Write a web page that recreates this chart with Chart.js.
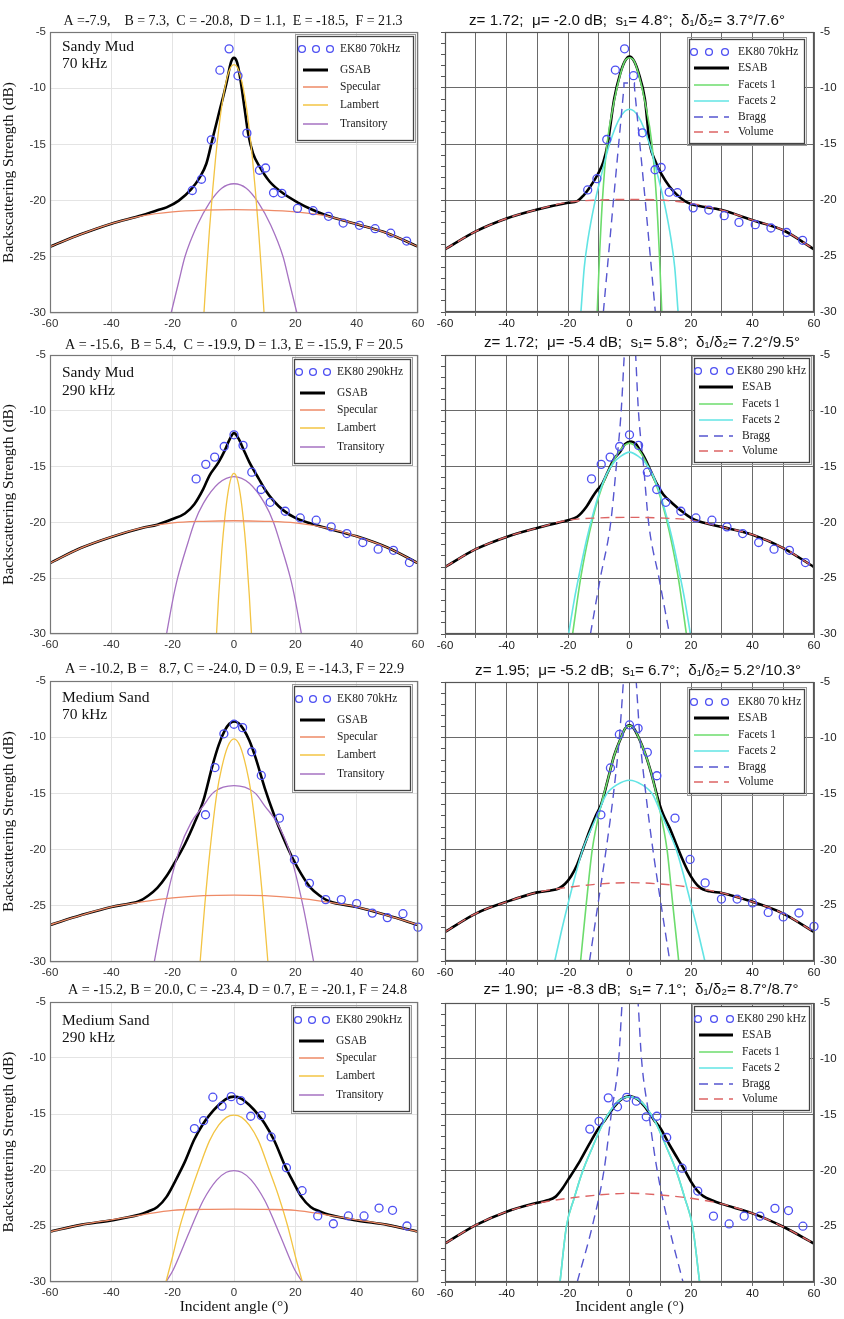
<!DOCTYPE html>
<html><head><meta charset="utf-8">
<script src="https://cdn.jsdelivr.net/npm/chart.js@4.4.1/dist/chart.umd.min.js"></script>
<style>
html,body{margin:0;padding:0;background:#fff;}
#wrap{position:relative;width:844px;height:1319px;overflow:hidden;background:#fff;}
#wrap canvas{position:absolute;}
</style></head><body><div id="wrap"></div>
<script>
// ================= DATA (angle in degrees, backscatter in dB) =================
// ---- Row 1: Sandy Mud 70 kHz ----
const SM70_EK80_ANG = [-13.6,-10.6,-7.4,-4.6,-1.6,1.3,4.2,8.3,10.3,12.9,15.6,20.7,25.8,30.8,35.6,40.9,46.0,51.1,56.3];
const SM70_EK80_DB  = [-19.1,-18.1,-14.6,-8.4,-6.5,-8.9,-14.0,-17.3,-17.1,-19.3,-19.35,-20.7,-20.9,-21.4,-22.0,-22.2,-22.5,-22.9,-23.6];
const SM70_GSAB_ANG = [-60,-50,-40,-30,-25,-22,-18,-14,-11.3,-9,-7,-4.7,-2.5,-1,0,1,1.9,3.5,4.6,6.2,8.4,11.6,16,21,25,30,40,50,60];
const SM70_GSAB_DB  = [-24.1,-23.0,-22.05,-21.3,-20.85,-20.6,-20.0,-19.0,-18.0,-16.7,-14.5,-12.0,-9.6,-7.7,-7.3,-7.7,-8.9,-11.9,-14.0,-15.8,-17.0,-18.3,-19.35,-20.2,-20.75,-21.3,-22.1,-22.9,-24.1];
const SM70_SPEC_ANG = [-60,-50,-40,-30,-20,-10,0,10,20,30,40,50,60];
const SM70_SPEC_DB  = [-24.1,-23.0,-22.05,-21.35,-21.0,-20.85,-20.8,-20.85,-21.0,-21.35,-22.1,-22.9,-24.1];
const SM70_LAMB_ANG = [-9.8,-9,-8,-7,-6,-5,-4,-3,-2,-1,0,1,2,3,4,5,6,7,8,9,9.8];
const SM70_LAMB_DB  = [-30,-26.5,-22.6,-19.2,-16.2,-13.7,-11.6,-10.0,-8.8,-8.1,-7.9,-8.1,-8.8,-10.0,-11.6,-13.7,-16.2,-19.2,-22.6,-26.5,-30];
const SM70_TRAN_ANG = [-20.5,-18,-16,-12,-8,-4,0,4,8,12,16,18,20.5];
const SM70_TRAN_DB  = [-30,-27.2,-25.0,-22.2,-20.2,-18.9,-18.5,-18.9,-20.2,-22.2,-25.0,-27.2,-30];
const SM70_ESAB_ANG = [-60,-50,-40,-30,-20,-17,-15,-13,-10.3,-8.5,-7.1,-5,-3,-1.5,0,1.5,3,5,6.6,8.5,10.4,13,15.3,18,20,30,40,50,60];
const SM70_ESAB_DB  = [-24.4,-22.8,-21.65,-20.85,-20.25,-20.1,-19.6,-18.9,-17.7,-16.6,-15.0,-11.0,-8.7,-7.6,-7.2,-7.6,-8.7,-11.0,-15.0,-16.6,-17.7,-18.8,-19.5,-20.1,-20.35,-20.9,-21.8,-22.7,-24.4];
const SM70_F1_ANG = [-10.5,-9.75,-8.8,-7.3,-5,-3,-1.5,0,1.5,3,5,7.3,8.8,9.75,10.5];
const SM70_F1_DB  = [-30,-25,-20,-15,-11.2,-8.8,-7.6,-7.3,-7.6,-8.8,-11.2,-15,-20,-25,-30];
const SM70_F2_ANG = [-15.8,-14.7,-13.5,-11.5,-9,-6.5,-3,0,3,6.5,9,11.5,13.5,14.7,15.8];
const SM70_F2_DB  = [-30,-26,-23.5,-20.5,-17.6,-15.0,-12.6,-11.9,-12.6,-15.0,-17.6,-20.5,-23.5,-26,-30];
const SM70_BRAGG_ANG = [-8.5,-5.2,-1.8,-1.8,1.6,1.6,5.1,8.4];
const SM70_BRAGG_DB  = [-30,-20,-9.9,-9.55,-9.55,-9.9,-20,-30];
const SM70_VOL_ANG = [-60,-50,-40,-30,-20,-10,0,10,20,30,40,50,60];
const SM70_VOL_DB  = [-24.4,-22.8,-21.65,-20.85,-20.2,-20.0,-19.95,-20.0,-20.3,-20.9,-21.8,-22.7,-24.4];

// ---- Row 2: Sandy Mud 290 kHz ----
const SM290_EK80_ANG = [-12.35,-9.2,-6.3,-3.2,0,2.95,5.8,8.85,11.8,16.7,21.6,26.8,31.7,36.8,42.0,47.0,52.0,57.2];
const SM290_EK80_DB  = [-16.1,-14.8,-14.15,-13.2,-12.15,-13.1,-15.5,-17.05,-18.2,-19.0,-19.6,-19.8,-20.4,-21.0,-21.8,-22.4,-22.5,-23.6];
const SM290_GSAB_ANG = [-60,-50,-40,-30,-25,-20,-16,-13,-10,-8,-5,-3,-1.5,0,1.5,3,5,8,10,13,16,20,25,30,40,50,60];
const SM290_GSAB_DB  = [-23.65,-22.3,-21.3,-20.5,-20.2,-19.7,-19.2,-18.4,-17.0,-15.8,-14.6,-13.55,-12.6,-12.0,-12.5,-13.4,-14.6,-16.05,-17.0,-18.1,-18.9,-19.6,-20.1,-20.5,-21.25,-22.25,-23.65];
const SM290_SPEC_ANG = [-60,-50,-40,-30,-20,-10,0,10,20,30,40,50,60];
const SM290_SPEC_DB  = [-23.65,-22.3,-21.3,-20.5,-20.05,-19.9,-19.85,-19.9,-20.05,-20.5,-21.25,-22.25,-23.65];
const SM290_LAMB_ANG = [-5.7,-5,-4,-3,-2,-1,0,1,2,3,4,5,5.7];
const SM290_LAMB_DB  = [-30,-26.6,-22.6,-19.6,-17.4,-16.05,-15.6,-16.05,-17.4,-19.6,-22.6,-26.6,-30];
const SM290_TRAN_ANG = [-22,-20,-18.4,-15,-12.9,-10,-5,0,5,10,12.9,15,18.4,20,22];
const SM290_TRAN_DB  = [-30,-27.0,-25,-21.8,-20,-18.3,-16.5,-15.9,-16.5,-18.3,-20,-21.8,-25,-27.0,-30];
const SM290_ESAB_ANG = [-60,-50,-40,-30,-22,-20,-17,-14,-12,-10.5,-9,-7,-5,-3,-1.5,0.5,2,3,5,7,9,11,14,17,20,23,30,40,50,60];
const SM290_ESAB_DB  = [-24.0,-22.4,-21.3,-20.5,-19.95,-19.8,-19.5,-18.6,-17.7,-17.1,-16.6,-15.45,-14.3,-13.65,-13.0,-12.75,-12.95,-13.35,-14.25,-15.45,-16.6,-17.5,-18.3,-19.0,-19.6,-19.95,-20.4,-21.1,-22.3,-24.0];
const SM290_F1_ANG = [-18.5,-16,-14,-12,-10,-7.5,-5,-3,0,3,5,7.5,10,12,14,16,18.5];
const SM290_F1_DB  = [-30,-25.2,-22.2,-19.7,-17.7,-15.8,-14.4,-13.5,-12.9,-13.5,-14.4,-15.8,-17.7,-19.7,-22.2,-25.2,-30];
const SM290_F2_ANG = [-19.8,-18,-16,-14,-12,-10,-7.5,-5,-3,0,3,5,7.5,10,12,14,16,18,19.8];
const SM290_F2_DB  = [-30,-27.0,-24.2,-21.6,-19.4,-17.5,-15.7,-14.6,-14.1,-13.7,-14.1,-14.6,-15.7,-17.5,-19.4,-21.6,-24.2,-27.0,-30];
const SM290_BRAGG_ANG = [-12.7,-9.5,-6.1,-4.3,-2.7,-1.7,0.2,2.0,2.9,4.6,6.2,9.6,13.0];
const SM290_BRAGG_DB  = [-30,-25,-20,-15,-10,-5,4,-5,-10,-15,-20,-25,-30];
const SM290_VOL_ANG = [-60,-50,-40,-30,-20,-10,0,10,20,30,40,50,60];
const SM290_VOL_DB  = [-24.0,-22.4,-21.3,-20.5,-19.8,-19.6,-19.55,-19.6,-19.8,-20.4,-21.1,-22.3,-24.0];

// ---- Row 3: Medium Sand 70 kHz ----
const MS70_EK80_ANG = [-9.3,-6.2,-3.3,0,2.8,5.8,8.9,14.8,19.7,24.6,29.9,35.0,40.0,45.1,50.0,55.1,60.0];
const MS70_EK80_DB  = [-16.9,-12.7,-9.7,-8.85,-9.15,-11.3,-13.4,-17.2,-20.9,-23.0,-24.45,-24.45,-24.8,-25.65,-26.05,-25.7,-26.9];
const MS70_GSAB_ANG = [-60,-50,-40,-34,-31,-28,-25,-22,-19,-16,-13,-10,-7,-5,-3,-1.5,0,1.5,3,5,7,10,13,16,19,22,25,28,31,40,50,60];
const MS70_GSAB_DB  = [-26.7,-25.85,-25.1,-24.8,-24.6,-24.1,-23.4,-22.35,-21.0,-19.5,-17.7,-15.65,-12.5,-10.7,-9.4,-8.8,-8.6,-8.75,-9.25,-10.3,-11.8,-14.5,-16.85,-18.9,-20.7,-22.2,-23.4,-24.1,-24.6,-25.1,-25.85,-26.7];
const MS70_SPEC_ANG = [-60,-50,-40,-30,-20,-10,0,10,20,30,40,50,60];
const MS70_SPEC_DB  = [-26.7,-25.85,-25.1,-24.65,-24.3,-24.1,-24.05,-24.1,-24.3,-24.65,-25.1,-25.85,-26.7];
const MS70_LAMB_ANG = [-11.05,-9.55,-7.8,-5.6,-4,-2,0,2,4,5.6,7.8,9.55,11.05];
const MS70_LAMB_DB  = [-30,-25,-20,-15,-12.7,-10.8,-10.15,-10.8,-12.7,-15,-20,-25,-30];
const MS70_TRAN_ANG = [-26,-22.5,-17.8,-14,-10,-7,-3.5,0,3.5,7,10,14,17.9,22.5,26];
const MS70_TRAN_DB  = [-30,-25,-20,-17.6,-16.1,-15.0,-14.45,-14.3,-14.45,-15.0,-16.1,-17.6,-20,-25,-30];
const MS70_ESAB_ANG = [-60,-50,-40,-30,-26,-23,-21,-19,-17,-15,-13,-11,-9.2,-7,-5,-3,-1.5,0,1.5,3,5,7,9.6,11,13,15,17,19,21,23,26,30,40,50,60];
const MS70_ESAB_DB  = [-27.4,-25.75,-24.7,-23.85,-23.7,-23.5,-23.1,-22.4,-21.35,-19.85,-18.35,-17.0,-15.95,-13.7,-11.6,-10.15,-9.2,-8.87,-9.2,-10.0,-11.35,-13.1,-15.8,-16.9,-18.05,-19.4,-20.75,-21.95,-22.85,-23.45,-23.75,-23.9,-24.7,-25.75,-27.4];
const MS70_F1_ANG = [-15.9,-14.1,-12.1,-9.2,-7,-5,-3,-1.5,0,1.5,3,5,7,9.4,12.2,14.1,16.0];
const MS70_F1_DB  = [-30,-25,-20,-16,-13.7,-11.6,-10.15,-9.2,-8.9,-9.2,-10.0,-11.35,-13.1,-15.9,-20,-25,-30];
const MS70_F2_ANG = [-24.3,-22.2,-20.1,-17.5,-15.2,-12.5,-10,-7.6,-4,0,4,7.6,10,12.5,15.2,17.5,20.1,22.3,24.5];
const MS70_F2_DB  = [-30,-27.4,-25,-22.2,-20,-18.2,-16.6,-15.1,-14.2,-13.8,-14.2,-15.1,-16.6,-18.2,-20,-22.2,-25,-27.4,-30];
const MS70_BRAGG_ANG = [-13,-10.3,-7.6,-5.2,-3.3,-2.0,0.1,2.2,3.4,5.3,7.6,10.3,13.1];
const MS70_BRAGG_DB  = [-30,-25,-20,-15,-10,-5,4,-5,-10,-15,-20,-25,-30];
const MS70_VOL_ANG = [-60,-50,-40,-30,-20,-10,0,10,20,30,40,50,60];
const MS70_VOL_DB  = [-27.4,-25.75,-24.7,-23.85,-23.4,-23.1,-22.98,-23.1,-23.4,-23.9,-24.7,-25.75,-27.4];

// ---- Row 4: Medium Sand 290 kHz ----
const MS290_EK80_ANG = [-12.9,-9.9,-6.9,-3.9,-0.9,2.2,5.45,8.9,12.1,17.1,22.2,27.3,32.4,37.3,42.4,47.3,51.7,56.4];
const MS290_EK80_DB  = [-16.3,-15.6,-13.5,-14.3,-13.45,-13.8,-15.2,-15.15,-17.05,-19.8,-21.85,-24.1,-24.8,-24.1,-24.1,-23.4,-23.6,-25.0];
const MS290_GSAB_ANG = [-60,-50,-40,-31,-28,-25,-22,-19,-16,-13,-10,-8,-5,-2.5,0,2.5,5,8,10,13,17,19,22,25,28,31,40,50,60];
const MS290_GSAB_DB  = [-25.5,-24.9,-24.5,-24.0,-23.7,-23.3,-22.4,-20.9,-19.25,-17.3,-15.85,-15.1,-14.2,-13.65,-13.45,-13.65,-14.2,-15.1,-15.85,-17.3,-19.85,-20.9,-22.4,-23.3,-23.7,-24.0,-24.5,-24.9,-25.5];
const MS290_SPEC_ANG = [-60,-50,-40,-30,-20,-10,0,10,20,30,40,50,60];
const MS290_SPEC_DB  = [-25.5,-24.9,-24.45,-24.0,-23.6,-23.52,-23.5,-23.52,-23.6,-24.0,-24.45,-24.9,-25.5];
const MS290_LAMB_ANG = [-22.2,-20,-17.6,-14.5,-11.6,-8,-5,-2.5,0,2.5,5,8,11.5,14.5,17.5,20,22.3];
const MS290_LAMB_DB  = [-30,-27.7,-25,-22.3,-20,-17.4,-16.0,-15.3,-15.1,-15.3,-16.0,-17.4,-20,-22.3,-25,-27.7,-30];
const MS290_TRAN_ANG = [-22.2,-19.8,-16.5,-13.3,-10,-5.65,-2.5,0,2.5,5.65,10,13.3,16.5,19.8,22.3];
const MS290_TRAN_DB  = [-30,-28.9,-26.8,-24.7,-22.7,-20.9,-20.2,-20.05,-20.2,-20.9,-22.7,-24.7,-26.8,-28.9,-30];
const MS290_ESAB_ANG = [-60,-50,-40,-30,-27,-24,-22,-20,-18,-16,-13,-10,-8,-5,-3,0,3,5,8,10,13,16,18,20,22,24,27,30,40,50,60];
const MS290_ESAB_DB  = [-26.55,-24.9,-23.7,-22.9,-22.7,-22.35,-21.7,-20.85,-20.0,-19.1,-17.6,-16.2,-15.5,-14.3,-13.7,-13.35,-13.7,-14.3,-15.5,-16.2,-17.7,-19.1,-20.0,-21.0,-21.8,-22.3,-22.7,-23.0,-23.85,-25.05,-26.55];
const MS290_F1_ANG = [-22.6,-20.5,-18,-15.4,-12,-8.3,-4,0,4,8.3,12,15.4,18,20.5,22.8];
const MS290_F1_DB  = [-30,-25,-22.5,-20.2,-17.9,-15.6,-13.9,-13.4,-13.9,-15.6,-17.9,-20.2,-22.5,-25,-30];
const MS290_F2_ANG = [-22.6,-20.5,-18,-15.4,-12,-8.3,-4,0,4,8.3,12,15.4,18,20.5,22.8];
const MS290_F2_DB  = [-30,-25,-22.5,-20.2,-17.9,-15.6,-13.9,-13.4,-13.9,-15.6,-17.9,-20.2,-22.5,-25,-30];
const MS290_BRAGG_ANG = [-17,-12.1,-8.3,-5.95,-3.5,-2.4,0.2,2.8,3.9,6.3,9.0,12.8,17.4];
const MS290_BRAGG_DB  = [-30,-25,-20,-15,-10,-5,4,-5,-10,-15,-20,-25,-30];
const MS290_VOL_ANG = [-60,-50,-40,-30,-20,-10,0,10,20,30,40,50,60];
const MS290_VOL_DB  = [-26.55,-24.9,-23.7,-22.95,-22.5,-22.2,-22.05,-22.2,-22.5,-23.0,-23.85,-25.05,-26.55];

// ---- Tick values and texts ----
const X_TICKS = [-60,-40,-20,0,20,40,60];
const Y_TICKS = [-30,-25,-20,-15,-10,-5];
const SEDIMENTS = ['Sandy Mud','Sandy Mud','Medium Sand','Medium Sand'];
const FREQS = ['70 kHz','290 kHz','70 kHz','290 kHz'];
const LEFT_TITLES = [
  'A =-7.9,    B = 7.3,  C = -20.8,  D = 1.1,  E = -18.5,  F = 21.3',
  'A = -15.6,  B = 5.4,  C = -19.9, D = 1.3, E = -15.9, F = 20.5',
  'A = -10.2, B =   8.7, C = -24.0, D = 0.9, E = -14.3, F = 22.9',
  'A = -15.2, B = 20.0, C = -23.4, D = 0.7, E = -20.1, F = 24.8'];
const RIGHT_TITLES = [
  'z= 1.72;  \u03bc= -2.0 dB;  s\u2081= 4.8\u00b0;  \u03b4\u2081/\u03b4\u2082= 3.7\u00b0/7.6\u00b0',
  'z= 1.72;  \u03bc= -5.4 dB;  s\u2081= 5.8\u00b0;  \u03b4\u2081/\u03b4\u2082= 7.2\u00b0/9.5\u00b0',
  'z= 1.95;  \u03bc= -5.2 dB;  s\u2081= 6.7\u00b0;  \u03b4\u2081/\u03b4\u2082= 5.2\u00b0/10.3\u00b0',
  'z= 1.90;  \u03bc= -8.3 dB;  s\u2081= 7.1\u00b0;  \u03b4\u2081/\u03b4\u2082= 8.7\u00b0/8.7\u00b0'];
const EK80_LEFT_LABELS = ['EK80 70kHz','EK80 290kHz','EK80 70kHz','EK80 290kHz'];
const EK80_RIGHT_LABELS = ['EK80 70kHz','EK80 290 kHz','EK80 70 kHz','EK80 290 kHz'];
const LEFT_MODEL_LABELS = ['GSAB','Specular','Lambert','Transitory'];
const RIGHT_MODEL_LABELS = ['ESAB','Facets 1','Facets 2','Bragg','Volume'];
const X_TITLE = 'Incident angle (\u00b0)';
const Y_TITLE = 'Backscattering Strength (dB)';

// ================= RENDERING =================
const wrap = document.getElementById('wrap');
const pts = (a, d) => a.map((x, i) => ({x: x, y: d[i]}));
const SERIF = '"Liberation Serif","Times New Roman",serif';
const SANS = '"Liberation Sans",Arial,sans-serif';

const STY = {
  ek80: {showLine:false, pointRadius:4, pointBorderWidth:1.3, pointBorderColor:'#4d4ff2', pointBackgroundColor:'rgba(0,0,0,0)', borderColor:'#4d4ff2', backgroundColor:'rgba(0,0,0,0)', clip:false, order:0},
  black: {borderColor:'#000000', borderWidth:2.6, order:6},
  spec: {borderColor:'#ee8a66', borderWidth:1.3, order:1},
  lamb: {borderColor:'#f3c443', borderWidth:1.3, order:3},
  tran: {borderColor:'#a672c2', borderWidth:1.3, order:4},
  f1: {borderColor:'#6cdc6c', borderWidth:1.6, order:4},
  f2: {borderColor:'#62e4e4', borderWidth:1.6, order:3},
  bragg: {borderColor:'#5656d0', borderWidth:1.4, borderDash:[9,6], order:2},
  vol: {borderColor:'#dd6464', borderWidth:1.4, borderDash:[9,6], order:1}
};

const ROWS = [
  {ek:[SM70_EK80_ANG,SM70_EK80_DB], L:[[SM70_GSAB_ANG,SM70_GSAB_DB],[SM70_SPEC_ANG,SM70_SPEC_DB],[SM70_LAMB_ANG,SM70_LAMB_DB],[SM70_TRAN_ANG,SM70_TRAN_DB]],
   R:[[SM70_ESAB_ANG,SM70_ESAB_DB],[SM70_F1_ANG,SM70_F1_DB],[SM70_F2_ANG,SM70_F2_DB],[SM70_BRAGG_ANG,SM70_BRAGG_DB],[SM70_VOL_ANG,SM70_VOL_DB]], braggStraight:true},
  {ek:[SM290_EK80_ANG,SM290_EK80_DB], L:[[SM290_GSAB_ANG,SM290_GSAB_DB],[SM290_SPEC_ANG,SM290_SPEC_DB],[SM290_LAMB_ANG,SM290_LAMB_DB],[SM290_TRAN_ANG,SM290_TRAN_DB]],
   R:[[SM290_ESAB_ANG,SM290_ESAB_DB],[SM290_F1_ANG,SM290_F1_DB],[SM290_F2_ANG,SM290_F2_DB],[SM290_BRAGG_ANG,SM290_BRAGG_DB],[SM290_VOL_ANG,SM290_VOL_DB]]},
  {ek:[MS70_EK80_ANG,MS70_EK80_DB], L:[[MS70_GSAB_ANG,MS70_GSAB_DB],[MS70_SPEC_ANG,MS70_SPEC_DB],[MS70_LAMB_ANG,MS70_LAMB_DB],[MS70_TRAN_ANG,MS70_TRAN_DB]],
   R:[[MS70_ESAB_ANG,MS70_ESAB_DB],[MS70_F1_ANG,MS70_F1_DB],[MS70_F2_ANG,MS70_F2_DB],[MS70_BRAGG_ANG,MS70_BRAGG_DB],[MS70_VOL_ANG,MS70_VOL_DB]]},
  {ek:[MS290_EK80_ANG,MS290_EK80_DB], L:[[MS290_GSAB_ANG,MS290_GSAB_DB],[MS290_SPEC_ANG,MS290_SPEC_DB],[MS290_LAMB_ANG,MS290_LAMB_DB],[MS290_TRAN_ANG,MS290_TRAN_DB]],
   R:[[MS290_ESAB_ANG,MS290_ESAB_DB],[MS290_F1_ANG,MS290_F1_DB],[MS290_F2_ANG,MS290_F2_DB],[MS290_BRAGG_ANG,MS290_BRAGG_DB],[MS290_VOL_ANG,MS290_VOL_DB]]}
];

// layout (pixels)
const LPOS = [
  {T:32,B:313,tcx:183,tw:339,ty:-11,laby:[15,32],legX:247,legY:4},
  {T:355,B:634,tcx:184,tw:338,ty:-10,laby:[18,36],legX:244,legY:4},
  {T:681,B:962,tcx:184.5,tw:339,ty:-12,laby:[17,34],legX:244,legY:5},
  {T:1002,B:1282,tcx:187.5,tw:339,ty:-12,laby:[19,36],legX:243,legY:5}
];
const RPOS = [
  {T:32,B:312,tcx:182,tw:316,ty:-11,legX:244,legY:7,c:[5,20,36],t0:49,l:[5,40],t1:49},
  {T:355,B:634,tcx:197,tw:316,ty:-12,legX:249,legY:3,c:[4,20,36],t0:43,l:[5,39],t1:48},
  {T:682,B:961,tcx:193,tw:326,ty:-11,legX:244,legY:7,c:[5,20,36],t0:49,l:[5,40],t1:49},
  {T:1003,B:1282,tcx:196,tw:315,ty:-13,legX:249,legY:3,c:[4,20,36],t0:43,l:[5,39],t1:48}
];

function fitText(ctx, txt, cx, cy, w, font, color){
  ctx.save(); ctx.font = font; ctx.fillStyle = color; ctx.textBaseline = 'middle'; ctx.textAlign = 'center';
  const m = ctx.measureText(txt).width; const s = w / m;
  ctx.translate(cx, cy); ctx.scale(s, 1); ctx.fillText(txt, 0, 0); ctx.restore();
}

function makeDeco(id, cfg){
  return {
    id: id,
    afterDatasetsDraw(chart){
      const ctx = chart.ctx, ca = chart.chartArea;
      ctx.save();
      // frame
      ctx.strokeStyle = cfg.frame; ctx.lineWidth = 1.2;
      ctx.strokeRect(ca.left + 0.5, ca.top + 0.5, ca.right - ca.left - 1, ca.bottom - ca.top - 1);
      // title
      fitText(ctx, cfg.title, ca.left + cfg.tcx, ca.top + cfg.ty, cfg.tw, cfg.titleFont, '#111');
      // panel label
      if (cfg.lab){
        ctx.font = '15.5px ' + SERIF; ctx.fillStyle = '#111'; ctx.textBaseline = 'middle'; ctx.textAlign = 'left';
        ctx.fillText(cfg.lab[0], ca.left + 12, ca.top + cfg.laby[0]);
        ctx.fillText(cfg.lab[1], ca.left + 12, ca.top + cfg.laby[1]);
      }
      // legend box
      const lx = ca.left + cfg.legX, ly = ca.top + cfg.legY;
      ctx.fillStyle = '#fff'; ctx.fillRect(lx, ly, cfg.legW, cfg.legH);
      ctx.strokeStyle = '#9a9a9a'; ctx.lineWidth = 1; ctx.strokeRect(lx - 1.5, ly - 1.5, cfg.legW + 3, cfg.legH + 3);
      ctx.strokeStyle = '#444'; ctx.lineWidth = 1.3; ctx.strokeRect(lx + 0.5, ly + 0.5, cfg.legW - 1, cfg.legH - 1);
      ctx.font = '11.5px ' + SERIF; ctx.textBaseline = 'middle'; ctx.textAlign = 'left';
      chart.data.datasets.forEach((ds, i) => {
        const y = ly + cfg.rows[i];
        ctx.save();
        if (ds.showLine === false){
          ctx.strokeStyle = ds.pointBorderColor; ctx.lineWidth = 1.3;
          cfg.c.forEach(cx => { ctx.beginPath(); ctx.arc(lx + cx, y, 3.4, 0, Math.PI * 2); ctx.stroke(); });
          ctx.fillStyle = '#222'; ctx.fillText(ds.label, lx + cfg.t0, y);
        } else {
          ctx.strokeStyle = ds.borderColor; ctx.lineWidth = ds.borderWidth > 2 ? 3 : 1.5;
          ctx.setLineDash(ds.borderDash || []);
          ctx.beginPath(); ctx.moveTo(lx + cfg.l[0], y); ctx.lineTo(lx + cfg.l[1], y); ctx.stroke();
          ctx.setLineDash([]);
          ctx.fillStyle = '#222'; ctx.fillText(ds.label, lx + cfg.t1, y);
        }
        ctx.restore();
      });
      ctx.restore();
    }
  };
}

function addCanvas(left, top, w, h){
  const c = document.createElement('canvas');
  c.width = w; c.height = h;
  c.style.left = left + 'px'; c.style.top = top + 'px';
  c.style.width = w + 'px'; c.style.height = h + 'px';
  wrap.appendChild(c);
  return c;
}

const lineBase = {pointRadius:0, fill:false, cubicInterpolationMode:'monotone'};

for (let r = 0; r < 4; r++){
  const row = ROWS[r], lp = LPOS[r], rp = RPOS[r];
  const last = r === 3;
  const xH = last ? 37 : 26;

  // ---------------- LEFT PANEL ----------------
  {
    const h = (lp.B - lp.T) + 32 + xH;
    const cv = addCanvas(0, lp.T - 32, 440, h);
    const styles = [STY.black, STY.spec, STY.lamb, STY.tran];
    const datasets = [Object.assign({label: EK80_LEFT_LABELS[r], data: pts(row.ek[0], row.ek[1])}, STY.ek80)];
    row.L.forEach((s, k) => datasets.push(Object.assign({label: LEFT_MODEL_LABELS[k], data: pts(s[0], s[1])}, lineBase, styles[k])));
    new Chart(cv, {
      type: 'line',
      data: {datasets: datasets},
      options: {
        responsive: false, animation: false, events: [],
        layout: {padding: {left: 0, right: 22, top: 32, bottom: 0}, autoPadding: false},
        plugins: {legend: {display: false}, tooltip: {enabled: false}, title: {display: false}},
        scales: {
          x: {type: 'linear', min: X_TICKS[0], max: X_TICKS[X_TICKS.length - 1],
              afterBuildTicks: s => { s.ticks = X_TICKS.map(v => ({value: v})); },
              ticks: {font: {family: SANS, size: 11.5}, color: '#333', padding: 4, maxRotation: 0, autoSkip: false},
              grid: {color: '#e4e4e4', lineWidth: 1, drawTicks: false},
              border: {display: false},
              title: {display: last, text: X_TITLE, font: {family: SERIF, size: 15.5}, color: '#111', padding: {top: 0, bottom: 3}},
              afterFit: s => { s.height = xH; s.paddingLeft = 0; s.paddingRight = 0; }},
          y: {type: 'linear', min: Y_TICKS[0], max: Y_TICKS[Y_TICKS.length - 1],
              afterBuildTicks: s => { s.ticks = Y_TICKS.map(v => ({value: v})); },
              ticks: {font: {family: SANS, size: 11.5}, color: '#333', padding: 4},
              grid: {color: '#e4e4e4', lineWidth: 1, drawTicks: false},
              border: {display: false},
              title: {display: true, text: Y_TITLE, font: {family: SERIF, size: 15.5}, color: '#111', padding: {top: 0, bottom: 0}},
              afterFit: s => { s.width = 50; s.paddingTop = 0; s.paddingBottom = 0; }}
        }
      },
      plugins: [makeDeco('decoL' + r, {
        frame: '#777', title: LEFT_TITLES[r], tcx: lp.tcx, tw: lp.tw, ty: lp.ty, titleFont: '14.5px ' + SERIF,
        lab: [SEDIMENTS[r], FREQS[r]], laby: lp.laby,
        legX: lp.legX, legY: lp.legY, legW: 117, legH: 105, rows: [13, 34, 51, 69, 88],
        c: [5, 19, 33], t0: 43, l: [6, 31], t1: 43
      })]
    });
  }

  // ---------------- RIGHT PANEL ----------------
  {
    const h = (rp.B - rp.T) + 32 + xH;
    const cv = addCanvas(422, rp.T - 32, 422, h);
    const styles = [STY.black, STY.f1, STY.f2, STY.bragg, STY.vol];
    const datasets = [Object.assign({label: EK80_RIGHT_LABELS[r], data: pts(row.ek[0], row.ek[1])}, STY.ek80)];
    row.R.forEach((s, k) => {
      const d = Object.assign({label: RIGHT_MODEL_LABELS[k], data: pts(s[0], s[1])}, lineBase, styles[k]);
      if (k === 3 && row.braggStraight){ d.cubicInterpolationMode = 'default'; d.tension = 0; }
      datasets.push(d);
    });
    new Chart(cv, {
      type: 'line',
      data: {datasets: datasets},
      options: {
        responsive: false, animation: false, events: [],
        layout: {padding: {left: 19, right: 0, top: 32, bottom: 0}, autoPadding: false},
        plugins: {legend: {display: false}, tooltip: {enabled: false}, title: {display: false}},
        scales: {
          x: {type: 'linear', min: -60, max: 60,
              ticks: {stepSize: 10, autoSkip: false, maxRotation: 0, font: {family: SANS, size: 11.5}, color: '#222', padding: 1,
                      callback: v => (X_TICKS.indexOf(v) >= 0 ? String(v) : '')},
              grid: {color: '#6a6a6a', lineWidth: 1, drawTicks: true, tickLength: 4},
              border: {display: false},
              title: {display: last, text: X_TITLE, font: {family: SERIF, size: 15.5}, color: '#111', padding: {top: 0, bottom: 3}},
              afterFit: s => { s.height = xH; s.paddingLeft = 0; s.paddingRight = 0; }},
          y: {type: 'linear', position: 'right', min: -30, max: -5,
              afterBuildTicks: s => { s.ticks = Y_TICKS.map(v => ({value: v})); },
              ticks: {font: {family: SANS, size: 11.5}, color: '#222', padding: 6},
              grid: {color: '#6a6a6a', lineWidth: 1, drawTicks: false},
              border: {display: false},
              afterFit: s => { s.width = 30; s.paddingTop = 0; s.paddingBottom = 0; }},
          yl: {type: 'linear', position: 'left', min: -30, max: -5,
              ticks: {stepSize: 1, display: false},
              grid: {drawOnChartArea: false, drawTicks: true, tickLength: 4, color: '#555'},
              border: {display: false},
              afterFit: s => { s.width = 4; s.paddingTop = 0; s.paddingBottom = 0; }}
        }
      },
      plugins: [makeDeco('decoR' + r, {
        frame: '#555', title: RIGHT_TITLES[r], tcx: rp.tcx, tw: rp.tw, ty: rp.ty, titleFont: '14.5px ' + SANS,
        lab: null,
        legX: rp.legX, legY: rp.legY, legW: 116, legH: 105, rows: [13, 29, 46, 62, 78, 93],
        c: rp.c, t0: rp.t0, l: rp.l, t1: rp.t1
      })]
    });
  }
}
</script>
</body></html>
